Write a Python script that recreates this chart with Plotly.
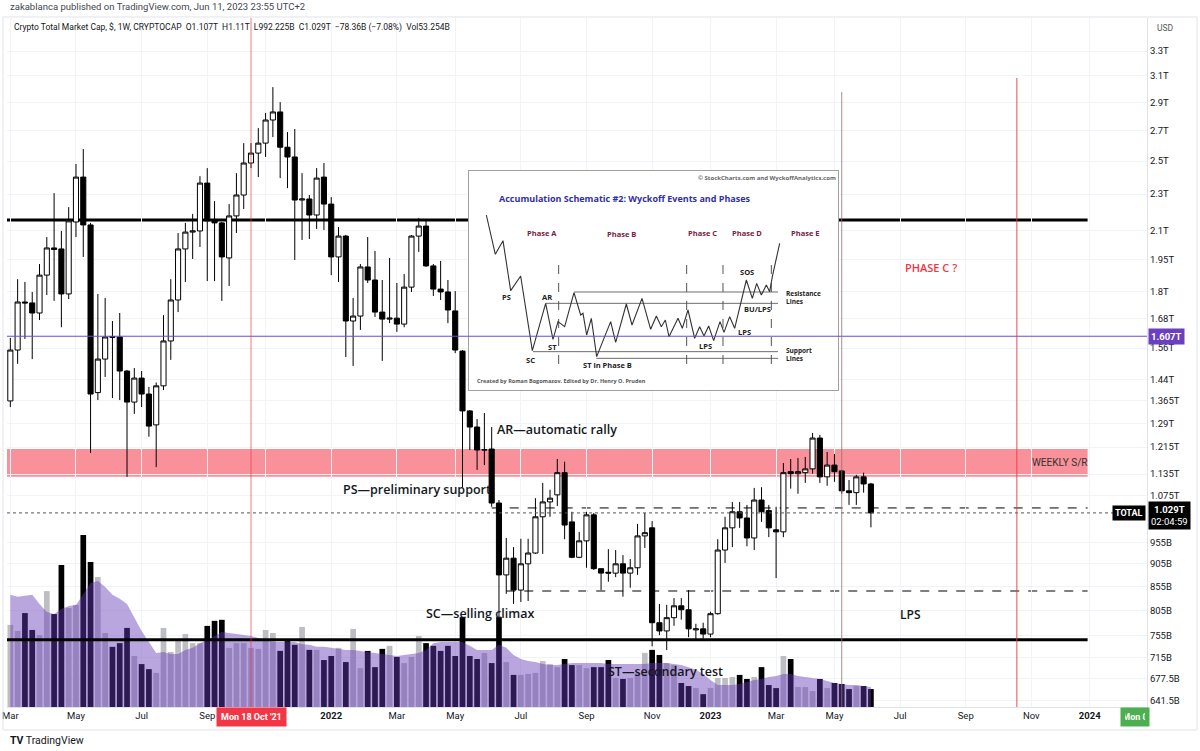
import math
import pandas as pd
import plotly.graph_objects as go

# ---------------- data (TOTAL crypto market cap, weekly, in trillions USD) ----------------
week_start = "2021-03-01"
n_weeks = 119
dates = pd.date_range(week_start, periods=n_weeks, freq="7D")

opens = [1.365,1.552,1.752,1.748,1.704,1.875,2.008,2.003,1.788,2.144,
         2.401,2.128,1.394,1.517,1.606,1.604,1.472,1.361,1.446,1.389,
         1.285,1.418,1.588,1.761,2.003,2.090,2.096,2.365,2.150,2.139,
         1.958,2.177,2.295,2.488,2.551,2.616,2.773,2.830,2.589,2.526,
         2.266,2.272,2.182,2.401,2.243,1.963,2.069,1.670,1.691,1.914,
         1.852,1.708,1.678,1.682,1.657,1.819,2.069,2.122,1.919,1.810,
         1.797,1.713,1.548,1.331,1.278,1.206,1.209,1.055,0.880,0.918,
         0.847,0.905,0.930,1.019,1.058,1.077,1.139,1.006,0.920,0.959,
         1.024,0.894,0.886,0.884,0.905,0.884,0.896,0.971,0.991,0.780,
         0.764,0.790,0.814,0.806,0.766,0.768,0.758,0.798,0.937,0.991,
         1.032,1.016,0.966,1.063,1.035,0.986,0.981,1.142,1.136,1.139,
         1.150,1.243,1.127,1.161,1.144,1.088,1.083,1.127,1.107]
highs = [1.600,1.856,1.843,1.797,1.928,2.064,2.306,2.096,2.226,2.482,
         2.577,2.139,1.788,1.770,1.670,1.704,1.476,1.483,1.472,1.414,
         1.430,1.695,1.856,2.085,2.139,2.188,2.407,2.456,2.260,2.144,
         2.243,2.425,2.616,2.616,2.717,2.823,3.013,2.901,2.690,2.711,
         2.425,2.295,2.456,2.488,2.283,2.117,2.075,1.770,1.928,2.064,
         1.993,1.852,1.958,1.838,1.880,2.075,2.165,2.150,1.928,1.943,
         1.852,1.801,1.552,1.334,1.304,1.324,1.278,1.063,0.966,0.944,
         0.964,0.964,1.068,1.110,1.091,1.179,1.171,1.032,0.981,1.032,
         1.029,0.894,0.939,0.937,0.925,0.916,1.001,1.029,1.008,0.818,
         0.816,0.830,0.830,0.847,0.778,0.780,0.802,0.963,1.019,1.058,
         1.058,1.050,1.096,1.098,1.050,1.045,1.167,1.179,1.182,1.185,
         1.259,1.253,1.200,1.194,1.147,1.118,1.133,1.139,1.110]
lows = [1.344,1.499,1.596,1.517,1.674,1.783,1.757,1.644,1.765,2.064,
        1.963,1.197,1.368,1.450,1.375,1.368,1.127,1.321,1.344,1.247,
        1.155,1.403,1.514,1.708,1.843,1.953,2.013,1.847,1.847,1.757,
        1.824,2.085,2.215,2.456,2.401,2.526,2.656,2.395,2.335,1.948,
        2.049,2.054,2.106,2.101,1.875,1.843,1.525,1.491,1.633,1.838,
        1.687,1.510,1.661,1.625,1.644,1.797,1.988,1.914,1.779,1.761,
        1.661,1.540,1.098,1.206,1.147,1.161,1.045,0.752,0.839,0.818,
        0.822,0.824,0.928,0.928,1.019,1.047,0.963,0.918,0.918,0.896,
        0.891,0.847,0.865,0.875,0.833,0.852,0.880,0.942,0.735,0.756,
        0.728,0.774,0.786,0.752,0.745,0.749,0.752,0.796,0.907,0.944,
        0.991,0.946,0.937,1.006,0.968,0.873,0.968,1.094,1.080,1.110,
        1.136,1.110,1.102,1.113,1.080,1.050,1.050,1.083,0.992225]
closes = [1.552,1.752,1.748,1.704,1.875,2.008,2.000,1.788,2.150,2.401,
          2.128,1.389,1.517,1.604,1.603,1.472,1.361,1.446,1.389,1.281,
          1.418,1.588,1.761,2.003,2.090,2.096,2.365,2.150,2.139,1.963,
          2.177,2.295,2.488,2.551,2.616,2.773,2.830,2.589,2.526,2.266,
          2.272,2.182,2.395,2.243,1.963,2.069,1.670,1.691,1.914,1.852,
          1.708,1.678,1.682,1.657,1.819,2.069,2.122,1.919,1.810,1.797,
          1.717,1.552,1.331,1.278,1.206,1.207,1.055,0.880,0.918,0.847,
          0.905,0.930,1.019,1.058,1.068,1.139,0.998,0.920,0.959,1.024,
          0.894,0.884,0.884,0.905,0.884,0.896,0.971,0.979,0.780,0.764,
          0.790,0.814,0.806,0.768,0.768,0.758,0.798,0.937,0.991,1.032,
          1.016,0.966,1.063,1.032,0.991,0.981,1.139,1.136,1.142,1.150,
          1.243,1.127,1.161,1.142,1.088,1.083,1.127,1.107,1.029]
# weekly volume (billions USD) and its moving average as drawn
volume_b = [243,225,278,228,213,343,275,420,293,302,
            509,429,385,219,178,189,234,151,127,112,
            101,234,163,198,216,189,189,240,255,258,
            175,189,189,175,172,228,219,166,195,184,
            237,169,169,139,151,175,133,231,115,166,
            118,172,181,148,130,148,210,189,181,166,
            181,151,266,151,142,160,130,266,133,95,
            95,98,101,136,127,118,142,124,124,115,
            118,118,139,86,83,86,101,160,169,154,
            130,124,71,62,56,38,56,86,86,89,
            95,83,89,118,65,56,151,142,59,59,
            47,83,56,71,68,53,62,62,53.25]
volume_ma_b = [332,326,329,332,305,281,275,290,299,302,
               334,367,373,355,332,320,305,263,225,192,
               160,163,157,157,169,175,189,198,210,222,
               219,216,213,210,204,198,192,192,192,192,
               186,184,178,178,175,172,169,169,166,163,
               160,157,154,151,154,157,160,169,189,192,
               192,192,192,181,169,169,169,184,175,154,
               142,136,133,127,124,124,127,130,130,130,
               130,130,127,127,127,127,127,127,130,130,
               130,127,124,118,110,98,80,65,65,65,
               68,74,80,83,89,92,98,98,92,89,
               86,83,77,71,68,65,65,62,59]

price_ticks = [3.3,3.1,2.9,2.7,2.5,2.3,2.1,1.95,1.8,1.68,1.56,1.44,1.365,1.29,
               1.215,1.135,1.075,0.955,0.905,0.855,0.805,0.755,0.715,0.6775,0.6415]
price_tick_text = ["3.3T","3.1T","2.9T","2.7T","2.5T","2.3T","2.1T","1.95T","1.8T","1.68T",
                   "1.56T","1.44T","1.365T","1.29T","1.215T","1.135T","1.075T","955B","905B",
                   "855B","805B","755B","715B","677.5B","641.5B"]
time_ticks = ["2021-03-01","2021-05-03","2021-07-05","2021-09-06","2021-11-01","2022-01-03",
              "2022-03-07","2022-05-02","2022-07-04","2022-09-05","2022-11-07","2023-01-02",
              "2023-03-06","2023-05-01","2023-07-03","2023-09-04","2023-11-06","2024-01-01"]
# the Nov 2021 label is hidden under the crosshair date label in the original
time_tick_text = ["Mar","May","Jul","Sep","","<b>2022</b>","Mar","May","Jul","Sep","Nov",
                  "<b>2023</b>","Mar","May","Jul","Sep","Nov","<b>2024</b>"]

# drawn levels (trillions)
resistance_top = 2.155
support_bottom = 0.747
weekly_sr = (1.127, 1.209)
ar_level = 1.042
lps_level = 0.845
purple_level = 1.607
last_price = 1.029

# Wyckoff schematic inset (picture coordinates of the pasted image)
zz_x = [55,82,105,128,158,193,233,255,270,290,318,338,345,356,370,386,428,443,475,492,522,548,
        565,580,592,603,630,643,660,680,695,708,722,737,756,768,785,800,835,853,866,880,895,905,913,935]
zz_y = [135,253,212,362,318,542,400,508,455,470,368,435,430,495,445,560,455,517,402,465,385,478,
        438,470,450,500,445,475,420,505,470,498,468,512,455,487,440,475,330,385,340,375,345,365,320,220]
inset_hlines = [(318,366),(233,400),(195,545),(385,565)]
inset_vlines = [272,656,765,910]

FONT = "Roboto, 'Open Sans', sans-serif"
TXT = "#131722"

# ---------------- figure ----------------
fig = go.Figure()

vol_colors = ["#bdbdc4" if c >= o else "#000000" for o, c in zip(opens, closes)]
fig.add_trace(go.Bar(x=dates, y=volume_b, marker=dict(color=vol_colors, line=dict(width=0)),
                     xaxis="x", yaxis="y", hoverinfo="skip", showlegend=False))
fig.add_trace(go.Scatter(x=dates, y=volume_ma_b, mode="lines", fill="tozeroy",
                         fillcolor="rgba(103,58,183,0.45)", line=dict(width=0, color="rgba(103,58,183,0.45)"),
                         xaxis="x", yaxis="y", hoverinfo="skip", showlegend=False))
fig.add_trace(go.Candlestick(x=dates, open=opens, high=highs, low=lows, close=closes,
                             xaxis="x", yaxis="y2", whiskerwidth=0,
                             increasing=dict(fillcolor="#ffffff", line=dict(color="#000000", width=1)),
                             decreasing=dict(fillcolor="#000000", line=dict(color="#000000", width=1)),
                             showlegend=False, hoverinfo="skip"))

# inset traces
hx, hy = [], []
for x0, yv in inset_hlines:
    hx += [x0, 930, None]
    hy += [yv, yv, None]
fig.add_trace(go.Scatter(x=hx, y=hy, mode="lines", line=dict(color="#6d6d6d", width=1),
                         xaxis="x3", yaxis="y3", hoverinfo="skip", showlegend=False))
vx, vy = [], []
for xv in inset_vlines:
    vx += [xv, xv, None]
    vy += [285, 600, None]
fig.add_trace(go.Scatter(x=vx, y=vy, mode="lines", line=dict(color="#555555", width=1, dash="dash"),
                         xaxis="x3", yaxis="y3", hoverinfo="skip", showlegend=False))
fig.add_trace(go.Scatter(x=zz_x, y=zz_y, mode="lines", line=dict(color="#333333", width=1.1),
                         xaxis="x3", yaxis="y3", hoverinfo="skip", showlegend=False))

L10 = math.log10
end_line = "2023-12-30"
far_left = "2020-12-01"
shapes = [
    dict(type="rect", xref="x", yref="y2", x0=far_left, x1=end_line, y0=weekly_sr[0], y1=weekly_sr[1],
         fillcolor="rgba(242,54,69,0.55)", line=dict(width=0), layer="below"),
    dict(type="line", xref="x", yref="y2", x0=far_left, x1=end_line, y0=resistance_top, y1=resistance_top,
         line=dict(color="#000000", width=3), layer="below"),
    dict(type="line", xref="x", yref="y2", x0="2022-06-06", x1=end_line, y0=ar_level, y1=ar_level,
         line=dict(color="#000000", width=1, dash="dash"), layer="below"),
    dict(type="line", xref="x", yref="y2", x0="2022-06-20", x1=end_line, y0=lps_level, y1=lps_level,
         line=dict(color="#000000", width=1, dash="dash"), layer="below"),
    dict(type="line", xref="x", yref="y2", x0=far_left, x1=end_line, y0=support_bottom, y1=support_bottom,
         line=dict(color="#000000", width=3), layer="above"),
    dict(type="line", xref="paper", yref="y2", x0=0, x1=1, y0=purple_level, y1=purple_level,
         line=dict(color="#6a4cc9", width=1), layer="above"),
    dict(type="line", xref="paper", yref="y2", x0=0, x1=0.971, y0=last_price, y1=last_price,
         line=dict(color="#555555", width=1, dash="dot"), layer="above"),
    dict(type="line", xref="x", yref="paper", x0="2021-10-18", x1="2021-10-18", y0=0, y1=1,
         line=dict(color="rgba(242,54,69,0.45)", width=1.5), layer="above"),
    dict(type="line", xref="x", yref="paper", x0="2023-05-08", x1="2023-05-08", y0=0, y1=0.8926,
         line=dict(color="rgba(150,110,115,0.8)", width=1), layer="above"),
    dict(type="line", xref="x", yref="paper", x0="2023-10-23", x1="2023-10-23", y0=0, y1=0.913,
         line=dict(color="rgba(242,54,69,0.6)", width=1.5), layer="above"),
    dict(type="rect", xref="paper", yref="paper", x0=-0.0035, x1=1.0439, y0=-0.0334, y1=1.0015,
         line=dict(color="#e0e3eb", width=1), fillcolor="rgba(0,0,0,0)", layer="above"),
]

def ann(text, x, y, xref="x", yref="y2", size=12.5, color=TXT, **kw):
    d = dict(text=text, x=x, y=y, xref=xref, yref=yref, showarrow=False,
             xanchor="center", yanchor="middle",
             font=dict(family=kw.pop("family", "'Open Sans', sans-serif"), size=size, color=color,
                       weight=kw.pop("weight", 600)))
    d.update(kw)
    return d

annotations = [
    ann("AR\u2014automatic rally", "2022-08-08", L10(1.269)),
    ann("PS\u2014preliminary support", "2022-03-26", L10(1.091)),
    ann("SC\u2014selling climax", "2022-05-26", L10(0.798)),
    ann("ST\u2014secondary test", "2022-11-20", L10(0.689)),
    ann("PHASE C ?", "2023-08-02", L10(1.909), color="#f23645", size=11),
    ann("LPS", "2023-07-13", L10(0.796), size=12),
    ann("WEEKLY S/R", "2023-12-03", L10(1.170), size=10, color="#333333", weight=400, family=FONT),
    # header texts
    ann("zakablanca published on TradingView.com, Jun 11, 2023 23:55 UTC+2", 0.001, 1.016,
        xref="paper", yref="paper", size=9.5, color="#434651", weight=400, family=FONT, xanchor="left"),
    ann("Crypto Total Market Cap, $, 1W, CRYPTOCAP  O1.107T  H1.11T  L992.225B  C1.029T  \u221278.36B (\u22127.08%)  Vol53.254B",
        0.0044, 0.9855, xref="paper", yref="paper", size=8.5, color=TXT, weight=400, family=FONT, xanchor="left"),
    ann("USD", 1.007, 0.9855, xref="paper", yref="paper", size=8.5, color="#555555", weight=400,
        family=FONT, xanchor="left"),
    # price axis labels
    ann("<b>1.607T</b>", 1.0, L10(purple_level), xref="paper", size=9.5, color="#ffffff", family=FONT,
        xanchor="left", xshift=1, bgcolor="#6a3fc0", borderpad=2, weight=400),
    ann("<b>1.029T</b><br>02:04:59", 1.0, L10(last_price), xref="paper", size=9.5, color="#ffffff",
        family=FONT, xanchor="left", xshift=1, yshift=-3, bgcolor="#000000", borderpad=2, weight=400),
    ann("<b>TOTAL</b>", 1.0, L10(last_price), xref="paper", size=9, color="#ffffff", family=FONT,
        xanchor="right", xshift=-1, bgcolor="#000000", borderpad=2, weight=400),
    # bottom labels
    ann("<b>Mon 18 Oct '21</b>", "2021-10-18", -0.0145, yref="paper", size=9, color="#ffffff",
        family=FONT, bgcolor="#f23645", borderpad=4, weight=400),
    ann("<b>Mon 0</b>", 0.9895, -0.0145, xref="paper", yref="paper", size=9, color="#ffffff",
        family=FONT, bgcolor="#4caf50", borderpad=4, weight=400, width=20),
    ann("<b>TV</b> TradingView", 0.0005, -0.048, xref="paper", yref="paper", size=10.5, color="#131722",
        family=FONT, weight=400, xanchor="left"),
]

# inset annotations
def ins(text, x, y, size=7.5, color="#222222", **kw):
    d = dict(text=text, x=x, y=y, xref="x3", yref="y3", showarrow=False,
             xanchor="center", yanchor="middle",
             font=dict(family="'Open Sans', sans-serif", size=size, color=color, weight=700))
    d.update(kw)
    return d

annotations += [
    ins("\u00a9 StockCharts.com and WyckoffAnalytics.com", 898, 25, size=6, color="#666666"),
    ins("Accumulation Schematic #2: Wyckoff Events and Phases", 472, 85, size=9, color="#2f2fa8"),
    ins("Phase A", 222, 190, size=7.5, color="#7a2040"),
    ins("Phase B", 460, 192, size=7.5, color="#7a2040"),
    ins("Phase C", 705, 190, size=7.5, color="#7a2040"),
    ins("Phase D", 838, 190, size=7.5, color="#7a2040"),
    ins("Phase E", 1010, 188, size=7.5, color="#7a2040"),
    ins("PS", 115, 382), ins("AR", 237, 380), ins("SC", 188, 570), ins("ST", 253, 530),
    ins("ST in Phase B", 420, 585), ins("LPS", 712, 528), ins("SOS", 837, 305),
    ins("BU/LPS", 868, 418), ins("LPS", 830, 487),
    ins("Resistance<br>Lines", 948, 383, size=6.5, xanchor="left", align="left"),
    ins("Support<br>Lines", 948, 555, size=6.5, xanchor="left", align="left"),
    ins("Created by Roman Bogomazov. Edited by Dr. Henry O. Pruden", 20, 633, size=5.5,
        color="#555555", xanchor="left"),
]

grid = "#f0f3fa"
fig.update_layout(
    template="none",
    width=1200, height=751,
    margin=dict(l=7, r=53, t=18, b=44),
    paper_bgcolor="#ffffff", plot_bgcolor="#ffffff",
    showlegend=False,
    bargap=0.22,
    boxgap=0.3, boxgroupgap=0,
    xaxis=dict(type="date", range=["2021-02-25 19:00", "2024-02-25 00:00"],
               tickvals=time_ticks, ticktext=time_tick_text, showgrid=True, gridcolor=grid, gridwidth=1,
               rangeslider=dict(visible=False), showline=True, linecolor="#e0e3eb", zeroline=False,
               ticks="", tickfont=dict(family=FONT, size=9.5, color=TXT), anchor="y"),
    yaxis=dict(range=[0, 2039], visible=False, showgrid=False, zeroline=False),
    yaxis2=dict(type="log", overlaying="y", side="right", anchor="x",
                range=[L10(0.6306), L10(3.587)],
                tickvals=price_ticks, ticktext=price_tick_text, showgrid=True, gridcolor=grid,
                showline=True, linecolor="#e0e3eb", zeroline=False, ticks="",
                tickfont=dict(family=FONT, size=9.5, color=TXT)),
    xaxis3=dict(domain=[0.40526, 0.72895], anchor="y3", range=[3, 1110], showgrid=False,
                zeroline=False, showticklabels=False, ticks="", showline=True, mirror=True,
                linecolor="#a0a0a0", linewidth=1),
    yaxis3=dict(domain=[0.46009, 0.77794], anchor="x3", range=[660, 3], showgrid=False,
                zeroline=False, showticklabels=False, ticks="", showline=True, mirror=True,
                linecolor="#a0a0a0", linewidth=1),
    shapes=shapes,
    annotations=annotations,
)

fig.write_html("out.html")
